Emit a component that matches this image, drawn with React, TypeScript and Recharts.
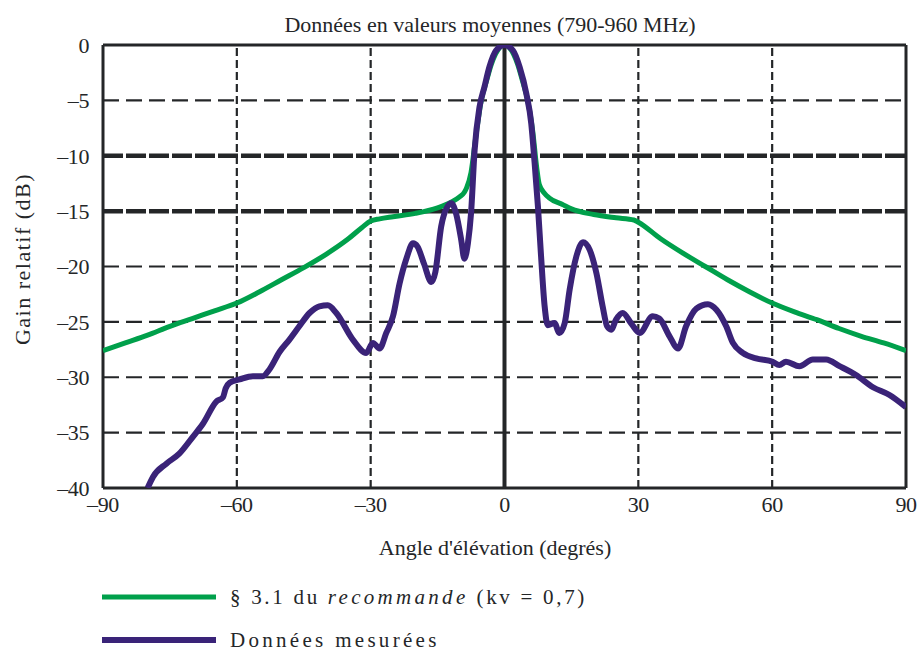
import React from "react";
import { LineChart, Line, XAxis, YAxis, ReferenceLine } from "recharts";

// Angles (degrees) and relative gain (dB) for the recommended envelope, kv = 0.7
const recAngles = [
  -90, -85, -80, -75, -70, -65, -60, -55, -50, -45, -40, -35, -32, -30, -28, -25, -20, -15, -12, -10, -9, -8.5,
  -7.5, -6.5, -5.2, -4, -3, -2, -1, 0, 1, 2, 3, 4, 5.2, 6.3, 7.2, 7.8, 9, 10, 13, 15, 20, 25, 29, 30, 35, 40, 45,
  50, 55, 60, 65, 70, 75, 80, 85, 90,
];
const recGain = [
  -27.6, -26.9, -26.2, -25.4, -24.7, -24.0, -23.3, -22.3, -21.2, -20.1, -18.9, -17.5, -16.5, -15.9, -15.7, -15.5,
  -15.2, -14.7, -14.2, -13.7, -13.3, -12.9, -11.5, -8.5, -5.0, -3.2, -1.8, -0.8, -0.2, 0, -0.2, -0.8, -1.8, -3.2,
  -5.0, -7.7, -11.0, -12.6, -13.4, -13.8, -14.4, -14.8, -15.3, -15.6, -15.8, -16.0, -17.5, -18.8, -20.0, -21.2,
  -22.3, -23.3, -24.1, -24.8, -25.6, -26.3, -26.9, -27.6,
];

// Measured pattern, mean values over 790-960 MHz
const measAngles = [
  -80, -78.8, -75.8, -72.9, -69.9, -67.6, -64.6, -63.1, -62.5, -61.6, -59.4, -56.4, -54.2, -52.7, -50.4, -48.2,
  -46.0, -43.7, -41.5, -39.6, -37.7, -34.0, -31.0, -29.5, -28.0, -26.5, -25.0, -23.5, -22.0, -20.5, -19.5, -18.0,
  -16.4, -15.5, -14.2, -12.8, -11.9, -10.8, -9.7, -9.0, -8.2, -7.5, -6.7, -5.6, -4.5, -3.4, -1.9, 0, 1.9, 3.4,
  4.9, 6.0, 6.7, 7.5, 8.2, 9.0, 9.7, 11.2, 12.3, 13.5, 14.6, 16.1, 17.6, 19.1, 20.6, 22.0, 23.0, 23.9, 25.0, 26.5,
  28.5, 30.3, 33.2, 34.7, 37.0, 38.9, 40.7, 43.0, 45.6, 47.5, 49.7, 51.2, 53.4, 56.4, 60.1, 61.6, 63.1, 66.1,
  69.1, 72.1, 75.1, 78.8, 82.6, 86.3, 90.0,
];
const measGain = [
  -40.0, -39.0, -37.8, -36.9, -35.4, -34.2, -32.2, -31.8, -31.0, -30.5, -30.2, -29.9, -29.9, -29.3, -27.7, -26.6,
  -25.4, -24.2, -23.6, -23.5, -24.2, -26.6, -27.8, -26.9, -27.4, -26.0, -24.5, -21.5, -19.3, -17.9, -18.2, -19.8,
  -21.4, -20.5, -16.4, -14.6, -14.3, -15.3, -17.6, -19.3, -17.9, -15.2, -9.5, -5.6, -3.8, -2.0, -0.5, 0, -0.5,
  -2.0, -4.4, -7.1, -10.4, -14.6, -19.1, -23.6, -25.3, -25.1, -26.0, -25.1, -22.1, -19.1, -17.8, -18.5, -20.6,
  -23.6, -25.4, -25.7, -24.8, -24.2, -25.2, -26.0, -24.5, -24.7, -26.3, -27.4, -25.4, -23.8, -23.4, -23.9, -25.4,
  -26.9, -27.8, -28.3, -28.6, -28.9, -28.6, -29.0, -28.4, -28.4, -29.0, -29.8, -30.9, -31.6, -32.7,
];

const xTicks = [-90, -60, -30, 0, 30, 60, 90];
const yTicks = [0, -5, -10, -15, -20, -25, -30, -35, -40];
const thinRows = [-5, -20, -25, -30, -35];
const boldRows = [-10, -15];
const columns = [-60, -30, 30, 60];

const recData = recAngles.map((angle, i) => ({ angle, gain: recGain[i] }));
const measData = measAngles.map((angle, i) => ({ angle, gain: measGain[i] }));

const GREEN = "#00a04b";
const PURPLE = "#3a2378";
const INK = "#242628";
const SERIF = "Times New Roman, Liberation Serif, DejaVu Serif, serif";

const fmt = (v: number) => (v < 0 ? `\u2013${Math.abs(v)}` : `${v}`);

export default function App() {
  return (
    <div style={{ position: "absolute", left: 0, top: 0, width: 920, height: 653, background: "#fff", fontFamily: SERIF, color: INK }}>
      <div style={{ position: "absolute", left: 0, width: 980, top: 12, textAlign: "center", fontSize: 22, letterSpacing: 0 }}>
        Données en valeurs moyennes (790-960 MHz)
      </div>
      <LineChart
        width={920}
        height={653}
        margin={{ top: 45, right: 14, bottom: 135, left: 0 }}
        style={{ fontFamily: SERIF }}
      >
        <XAxis
          type="number"
          dataKey="angle"
          domain={[-90, 90]}
          ticks={xTicks}
          tickFormatter={fmt}
          axisLine={false}
          tickLine={false}
          tickSize={0}
          tickMargin={8}
          height={30}
          allowDataOverflow
          tick={{ fill: INK, fontSize: 22, fontFamily: SERIF, letterSpacing: -0.4 }}
        />
        <YAxis
          type="number"
          dataKey="gain"
          domain={[-40, 0]}
          ticks={yTicks}
          tickFormatter={fmt}
          axisLine={false}
          tickLine={false}
          tickSize={0}
          tickMargin={14}
          width={103}
          allowDataOverflow
          tick={{ fill: INK, fontSize: 22, fontFamily: SERIF, letterSpacing: -0.4 }}
        />
        {thinRows.map((y) => (
          <ReferenceLine key={`r${y}`} y={y} stroke={INK} strokeWidth={2.2} strokeDasharray="16 7" />
        ))}
        {boldRows.map((y) => (
          <ReferenceLine key={`b${y}`} y={y} stroke={INK} strokeWidth={4.5} strokeDasharray="20 3" />
        ))}
        {columns.map((x) => (
          <ReferenceLine key={`c${x}`} x={x} stroke={INK} strokeWidth={2.2} strokeDasharray="8 4" />
        ))}
        <ReferenceLine x={0} stroke={INK} strokeWidth={4} />
        <ReferenceLine y={0} stroke={INK} strokeWidth={3} />
        <ReferenceLine y={-40} stroke={INK} strokeWidth={3} />
        <ReferenceLine x={-90} stroke={INK} strokeWidth={3} />
        <ReferenceLine x={90} stroke={INK} strokeWidth={3} />
        <Line
          data={recData}
          dataKey="gain"
          type="monotone"
          stroke={GREEN}
          strokeWidth={5}
          dot={false}
          isAnimationActive={false}
        />
        <Line
          data={measData}
          dataKey="gain"
          type="monotone"
          stroke={PURPLE}
          strokeWidth={6}
          dot={false}
          isAnimationActive={false}
        />
      </LineChart>
      <div
        style={{
          position: "absolute",
          left: 8,
          top: 259,
          width: 30,
          height: 0,
          transform: "rotate(-90deg)",
          transformOrigin: "15px 0",
          whiteSpace: "nowrap",
        }}
      >
        <div style={{ position: "absolute", left: 15, top: -13, transform: "translateX(-50%)", fontSize: 22, letterSpacing: 1.5 }}>
          Gain relatif (dB)
        </div>
      </div>
      <div style={{ position: "absolute", left: 0, width: 990, top: 535, textAlign: "center", fontSize: 22, letterSpacing: 0 }}>
        Angle d'élévation (degrés)
      </div>
      <div style={{ position: "absolute", left: 102, top: 584, display: "flex", alignItems: "center", height: 26 }}>
        <svg width={114} height={8}>
          <line x1={0} y1={4} x2={114} y2={4} stroke={GREEN} strokeWidth={5} />
        </svg>
        <span style={{ marginLeft: 14, fontSize: 21, letterSpacing: 2.7 }}>
          § 3.1 du <i style={{ letterSpacing: 3.3 }}>recommande</i> (kv = 0,7)
        </span>
      </div>
      <div style={{ position: "absolute", left: 102, top: 627, display: "flex", alignItems: "center", height: 26 }}>
        <svg width={114} height={8}>
          <line x1={0} y1={4} x2={114} y2={4} stroke={PURPLE} strokeWidth={6} />
        </svg>
        <span style={{ marginLeft: 14, fontSize: 21, letterSpacing: 3.3 }}>Données mesurées</span>
      </div>
    </div>
  );
}
